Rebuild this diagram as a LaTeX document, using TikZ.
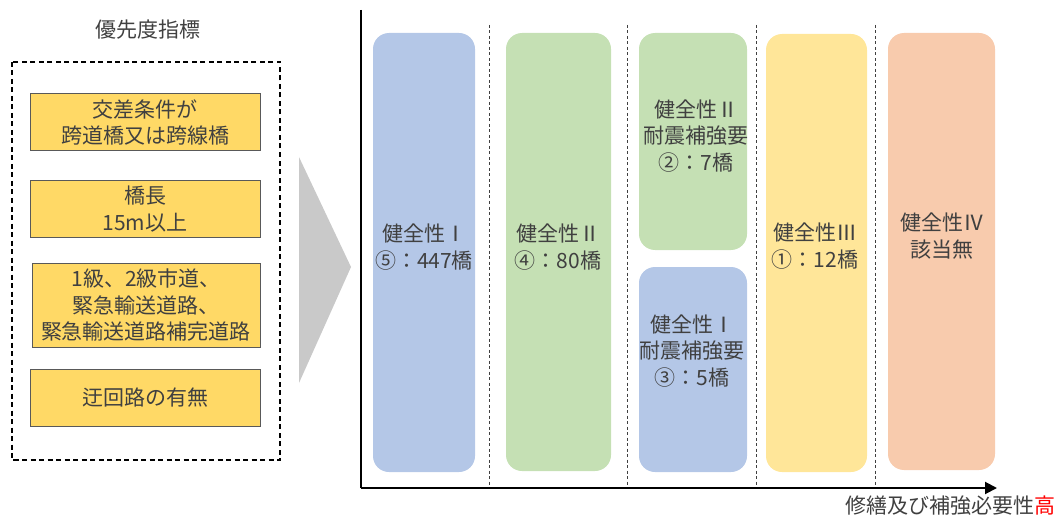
\documentclass[tikz,border=0pt]{standalone}
\usepackage{fontspec}
\setmainfont{Noto Sans CJK JP}
\usetikzlibrary{arrows.meta}
\definecolor{txt}{HTML}{404040}
\definecolor{gold}{HTML}{FFD966}
\definecolor{goldline}{HTML}{595959}
\definecolor{barblue}{HTML}{B4C7E7}
\definecolor{bargreen}{HTML}{C5E0B4}
\definecolor{baryellow}{HTML}{FFE699}
\definecolor{barorange}{HTML}{F8CBAD}
\definecolor{tri}{HTML}{C9C9C9}
\definecolor{hired}{HTML}{FF0000}
\tikzset{
  lbl/.style={text=txt, font=\fontsize{21}{26.5}\selectfont, align=center, inner sep=0pt},
  critbox/.style={draw=goldline, line width=1pt, fill=gold, minimum width=230pt, text=txt,
     font=\fontsize{21}{26.5}\selectfont, align=center, inner sep=0pt},
  bar/.style={rounded corners=16pt, fill=#1, draw=none},
  divider/.style={draw=txt, line width=1pt, dash pattern=on 3pt off 2.5pt},
}
\begin{document}
\begin{tikzpicture}[x=1pt,y=-1pt]
\useasboundingbox (0,0) rectangle (1058,524);
% left panel
\node[lbl] (title) at (148,30) {優先度指標};
\draw[line width=1.3pt, dash pattern=on 5pt off 3.5pt] (12,62) rectangle (280,460);
\node[critbox, minimum height=57pt] (c1) at (145,122.5) {交差条件が\\跨道橋又は跨線橋};
\node[critbox, minimum height=56pt] (c2) at (145,209) {橋長\\15m以上};
\node[critbox, minimum height=84pt, minimum width=228pt] (c3) at (146,305) {1級、2級市道、\\緊急輸送道路、\\緊急輸送道路補完道路};
\node[critbox, minimum height=57pt] (c4) at (145,397.5) {迂回路の有無};
% triangle
\fill[tri] (299,157) -- (351,267) -- (299,383) -- cycle;
% dividers
\draw[divider] (489,25) -- (489,488);
\draw[divider] (627,25) -- (627,488);
\draw[divider] (756,25) -- (756,488);
\draw[divider] (875,25) -- (875,488);
% bars
\fill[bar=barblue] (373,33) rectangle (475,472);
\fill[bar=bargreen] (506,33) rectangle (611,471);
\fill[bar=bargreen] (639,33) rectangle (747,250);
\fill[bar=barblue] (639,267) rectangle (747,472);
\fill[bar=baryellow] (766,34) rectangle (867,472);
\fill[bar=barorange] (888,33) rectangle (995,470);
% bar labels
\node[lbl] (b1) at (424,247) {健全性Ⅰ\\⑤：447橋};
\node[lbl] (b2) at (558,247) {健全性Ⅱ\\④：80橋};
\node[lbl] (b3a) at (696,136) {健全性Ⅱ\\耐震補強要\\②：7橋};
\node[lbl] (b3b) at (692,351) {健全性Ⅰ\\耐震補強要\\③：5橋};
\node[lbl] (b4) at (815,246) {健全性Ⅲ\\①：12橋};
\node[lbl] (b5) at (942,236) {健全性Ⅳ\\該当無};
% axes
\coordinate (ytop) at (361,10);
\coordinate (orig) at (361,488);
\coordinate (xend) at (997,488);
\draw[line width=2pt] (ytop) -- (orig);
\draw[line width=2pt, -{Triangle[length=12pt,width=12pt]}] (orig) -- (xend);
\node[lbl, anchor=east] (axlbl) at (1056,506) {修繕及び補強必要性\textcolor{hired}{高}};
\end{tikzpicture}
\end{document}
